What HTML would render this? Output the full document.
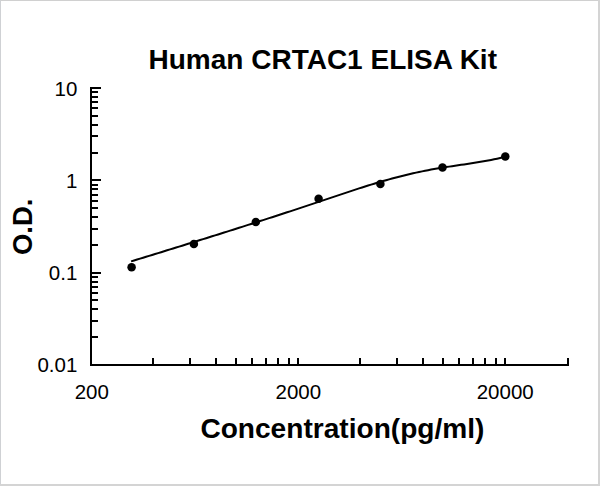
<!DOCTYPE html>
<html><head><meta charset="utf-8"><style>
html,body{margin:0;padding:0;background:#fff;}
body{width:600px;height:486px;overflow:hidden;}
svg{display:block;}
.t{stroke:#000;stroke-width:2;shape-rendering:crispEdges;}
.lbl{font-family:"Liberation Sans",Arial,sans-serif;font-size:20.5px;fill:#000;}
.bt{font-family:"Liberation Sans",Arial,sans-serif;font-weight:bold;fill:#000;}
</style></head><body>
<svg width="600" height="486" viewBox="0 0 600 486">
<rect x="0" y="0" width="600" height="486" fill="#fff"/>
<rect x="0" y="0" width="600" height="1" fill="#d0d0d0"/>
<rect x="0" y="0" width="1" height="486" fill="#cfd1d4"/>
<rect x="598" y="0" width="2" height="486" fill="#d4d4d4"/>
<rect x="0" y="484" width="600" height="2" fill="#d4d4d4"/>
<text class="bt" x="322.75" y="69" font-size="28" text-anchor="middle">Human CRTAC1 ELISA Kit</text>
<text class="bt" x="342.4" y="438" font-size="28.1" text-anchor="middle">Concentration(pg/ml)</text>
<text class="bt" transform="translate(31.9,226.85) rotate(-90)" x="0" y="0" font-size="27.5" text-anchor="middle">O.D.</text>
<g class="lbl" text-anchor="end">
<text x="77.3" y="95.5">10</text>
<text x="77.3" y="187.8">1</text>
<text x="77.3" y="279.6">0.1</text>
<text x="77.3" y="371.7">0.01</text>
</g>
<g class="lbl" text-anchor="middle">
<text x="91.8" y="399.4">200</text>
<text x="298.3" y="399.4">2000</text>
<text x="505.2" y="399.4">20000</text>
</g>
<g>
<rect x="90" y="87" width="2" height="279" fill="#000"/>
<rect x="90" y="364" width="479" height="2" fill="#000"/>
<line x1="92" y1="337" x2="98" y2="337" class="t"/>
<line x1="92" y1="321" x2="98" y2="321" class="t"/>
<line x1="92" y1="309" x2="98" y2="309" class="t"/>
<line x1="92" y1="300" x2="98" y2="300" class="t"/>
<line x1="92" y1="293" x2="98" y2="293" class="t"/>
<line x1="92" y1="287" x2="98" y2="287" class="t"/>
<line x1="92" y1="282" x2="98" y2="282" class="t"/>
<line x1="92" y1="277" x2="98" y2="277" class="t"/>
<line x1="92" y1="273" x2="101" y2="273" class="t"/>
<line x1="92" y1="245" x2="98" y2="245" class="t"/>
<line x1="92" y1="229" x2="98" y2="229" class="t"/>
<line x1="92" y1="217" x2="98" y2="217" class="t"/>
<line x1="92" y1="208" x2="98" y2="208" class="t"/>
<line x1="92" y1="201" x2="98" y2="201" class="t"/>
<line x1="92" y1="195" x2="98" y2="195" class="t"/>
<line x1="92" y1="189" x2="98" y2="189" class="t"/>
<line x1="92" y1="185" x2="98" y2="185" class="t"/>
<line x1="92" y1="180" x2="101" y2="180" class="t"/>
<line x1="92" y1="153" x2="98" y2="153" class="t"/>
<line x1="92" y1="136" x2="98" y2="136" class="t"/>
<line x1="92" y1="125" x2="98" y2="125" class="t"/>
<line x1="92" y1="116" x2="98" y2="116" class="t"/>
<line x1="92" y1="108" x2="98" y2="108" class="t"/>
<line x1="92" y1="102" x2="98" y2="102" class="t"/>
<line x1="92" y1="97" x2="98" y2="97" class="t"/>
<line x1="92" y1="92" x2="98" y2="92" class="t"/>
<line x1="92" y1="88" x2="101" y2="88" class="t"/>
<line x1="153" y1="358" x2="153" y2="364" class="t"/>
<line x1="190" y1="358" x2="190" y2="364" class="t"/>
<line x1="216" y1="358" x2="216" y2="364" class="t"/>
<line x1="236" y1="358" x2="236" y2="364" class="t"/>
<line x1="252" y1="358" x2="252" y2="364" class="t"/>
<line x1="266" y1="358" x2="266" y2="364" class="t"/>
<line x1="278" y1="358" x2="278" y2="364" class="t"/>
<line x1="289" y1="358" x2="289" y2="364" class="t"/>
<line x1="298" y1="358" x2="298" y2="364" class="t"/>
<line x1="360" y1="358" x2="360" y2="364" class="t"/>
<line x1="397" y1="358" x2="397" y2="364" class="t"/>
<line x1="423" y1="358" x2="423" y2="364" class="t"/>
<line x1="443" y1="358" x2="443" y2="364" class="t"/>
<line x1="459" y1="358" x2="459" y2="364" class="t"/>
<line x1="473" y1="358" x2="473" y2="364" class="t"/>
<line x1="485" y1="358" x2="485" y2="364" class="t"/>
<line x1="496" y1="358" x2="496" y2="364" class="t"/>
<line x1="505" y1="358" x2="505" y2="364" class="t"/>
<line x1="568" y1="358" x2="568" y2="364" class="t"/>
</g>
<path d="M131.1,261.41 L134.1,260.49 L137.1,259.57 L140.1,258.65 L143.1,257.73 L146.1,256.81 L149.1,255.88 L152.1,254.96 L155.1,254.04 L158.1,253.11 L161.1,252.18 L164.1,251.26 L167.1,250.33 L170.1,249.40 L173.1,248.47 L176.1,247.54 L179.1,246.61 L182.1,245.68 L185.1,244.75 L188.1,243.82 L191.1,242.88 L194.1,241.95 L197.1,241.01 L200.1,240.07 L203.1,239.14 L206.1,238.20 L209.1,237.26 L212.1,236.31 L215.1,235.37 L218.1,234.43 L221.1,233.48 L224.1,232.54 L227.1,231.59 L230.1,230.64 L233.1,229.69 L236.1,228.74 L239.1,227.78 L242.1,226.83 L245.1,225.87 L248.1,224.91 L251.1,223.95 L254.1,222.99 L257.1,222.03 L260.1,221.07 L263.1,220.10 L266.1,219.13 L269.1,218.16 L272.1,217.19 L275.1,216.22 L278.1,215.25 L281.1,214.27 L284.1,213.29 L287.1,212.31 L290.1,211.33 L293.1,210.35 L296.1,209.36 L299.1,208.37 L302.1,207.39 L305.1,206.39 L308.1,205.40 L311.1,204.40 L314.1,203.41 L317.1,202.41 L320.1,201.41 L323.1,200.40 L326.1,199.40 L329.1,198.39 L332.1,197.38 L335.1,196.37 L338.1,195.36 L341.1,194.36 L344.1,193.35 L347.1,192.35 L350.1,191.36 L353.1,190.37 L356.1,189.39 L359.1,188.42 L362.1,187.46 L365.1,186.50 L368.1,185.56 L371.1,184.63 L374.1,183.71 L377.1,182.81 L380.1,181.92 L383.1,181.05 L386.1,180.19 L389.1,179.35 L392.1,178.53 L395.1,177.73 L398.1,176.94 L401.1,176.18 L404.1,175.43 L407.1,174.70 L410.1,174.00 L413.1,173.31 L416.1,172.64 L419.1,171.99 L422.1,171.36 L425.1,170.75 L428.1,170.17 L431.1,169.60 L434.1,169.06 L437.1,168.54 L440.1,168.03 L443.1,167.55 L446.1,167.08 L449.1,166.62 L452.1,166.17 L455.1,165.72 L458.1,165.28 L461.1,164.84 L464.1,164.40 L467.1,163.96 L470.1,163.51 L473.1,163.04 L476.1,162.57 L479.1,162.08 L482.1,161.57 L485.1,161.04 L488.1,160.49 L491.1,159.91 L494.1,159.30 L497.1,158.66 L500.1,157.99 L503.1,157.28 L505.3,156.73" fill="none" stroke="#000" stroke-width="2" stroke-linecap="butt" stroke-linejoin="round"/>
<g fill="#000">
<circle cx="131.6" cy="267.3" r="4.25"/>
<circle cx="193.9" cy="243.9" r="4.25"/>
<circle cx="255.8" cy="222.0" r="4.25"/>
<circle cx="318.6" cy="198.8" r="4.25"/>
<circle cx="380.4" cy="183.9" r="4.25"/>
<circle cx="442.5" cy="167.4" r="4.25"/>
<circle cx="505.3" cy="156.4" r="4.25"/>
</g>
</svg>
</body></html>
